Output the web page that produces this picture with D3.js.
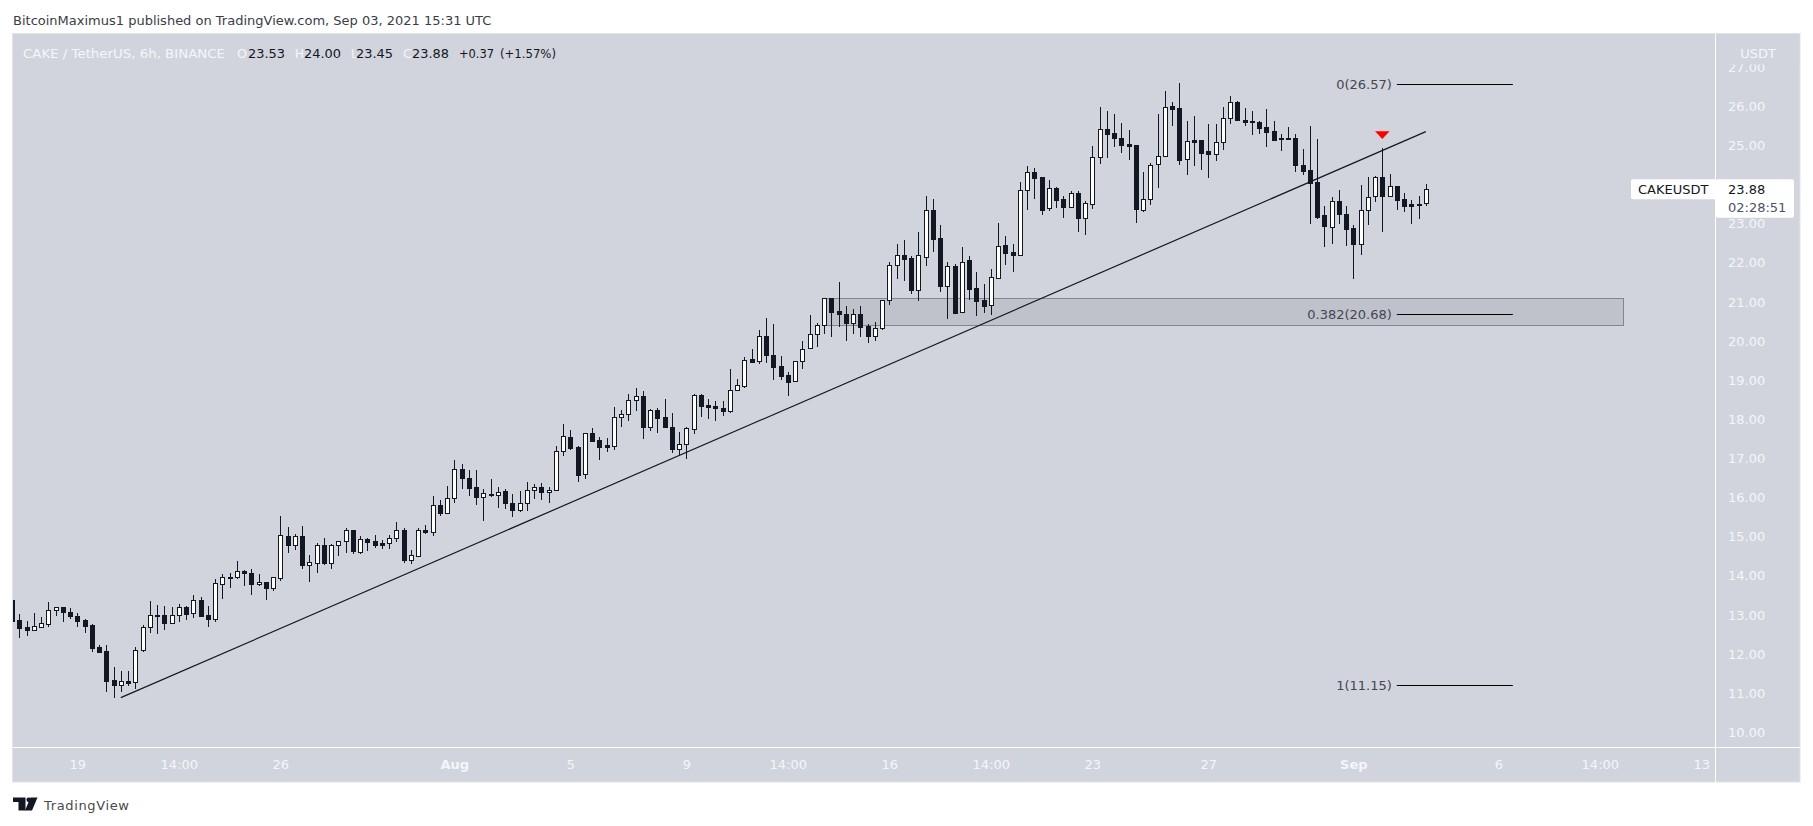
<!DOCTYPE html>
<html>
<head>
<meta charset="utf-8">
<script src="https://cdnjs.cloudflare.com/ajax/libs/d3/7.8.5/d3.min.js"></script>
<style>
  html, body { margin: 0; padding: 0; background: #ffffff; }
  svg { display: block; }
  text { font-family: "DejaVu Sans", sans-serif; font-size: 13px; }
</style>
</head>
<body>
<svg id="chart" width="1813" height="826"></svg>
<script>
// 6h candles, candle index 0 = Jul 17 00:00 UTC, first one is cut by the left edge
const firstIndex = -1;

const opens = [13.38,
  12.87,12.68,12.62,12.70,12.76,13.12,13.19,13.07,12.97,12.87,12.74,12.18,12.08,11.33,11.22,11.30,11.28,12.10,12.68,13.01,
  12.99,12.79,13.01,13.19,13.04,13.37,12.99,12.89,13.78,
  13.98,13.96,14.11,14.06,13.78,13.83,13.70,13.95,15.01,14.79,
  15.01,14.28,14.33,14.78,14.33,14.78,14.90,15.16,14.61,14.93,
  14.89,14.83,14.83,14.96,15.16,14.41,14.51,15.18,15.13,15.82,
  15.61,15.99,16.74,16.51,16.28,16.02,16.10,16.07,16.16,15.87,
  15.68,15.87,16.18,16.28,16.13,16.18,17.20,17.54,17.29,16.59,
  17.66,17.47,17.33,17.32,18.07,18.13,18.50,18.59,17.79,18.23,
  18.05,17.79,17.25,17.38,17.76,18.61,18.36,18.34,18.30,18.22,
  18.74,18.86,19.54,19.48,20.13,19.63,19.35,19.12,18.97,19.48,
  19.81,20.17,20.40,21.10,20.76,20.68,20.47,20.68,20.38,20.14,
  20.32,21.06,21.93,22.19,22.11,21.31,22.15,23.34,22.63,21.41,
  21.92,20.73,22.07,21.35,21.05,20.91,21.62,22.45,22.27,22.21,
  23.85,24.31,24.19,23.39,23.90,23.62,23.43,23.77,23.15,23.49,
  24.69,25.43,25.31,25.18,25.03,25.01,23.35,23.64,24.53,24.74,
  26.00,25.95,24.64,25.13,25.13,24.85,24.79,25.08,25.71,26.12,
  25.66,25.61,25.59,25.47,25.37,25.20,25.20,25.19,24.50,24.37,
  24.06,23.22,22.92,23.59,23.24,22.89,22.49,23.36,23.70,24.18,
  23.70,23.95,23.62,23.49,23.49,23.53];

const highs = [13.38,
  13.02,12.84,13.05,12.95,13.33,13.21,13.21,13.18,13.04,12.90,12.76,12.23,12.23,11.67,11.57,11.57,12.18,12.74,13.36,13.25,
  13.23,13.20,13.28,13.22,13.51,13.46,13.24,13.92,14.05,
  14.06,14.39,14.16,14.17,14.04,13.85,13.96,15.53,15.24,15.08,
  15.27,14.53,14.83,14.96,14.81,14.90,15.22,15.16,15.01,14.97,
  15.04,14.91,15.04,15.37,15.22,14.66,15.21,15.31,16.03,15.93,
  16.29,16.97,16.85,16.70,16.70,16.22,16.47,16.26,16.22,16.09,
  16.17,16.39,16.34,16.36,16.27,17.31,17.88,17.72,17.31,17.66,
  17.77,17.54,17.52,18.31,18.24,18.64,18.80,18.72,18.26,18.28,
  18.52,18.16,17.67,17.80,18.64,18.65,18.52,18.47,18.47,19.28,
  19.02,19.58,19.79,20.28,20.58,20.43,19.61,19.22,19.48,19.99,
  20.66,20.45,21.11,21.10,21.50,20.89,20.81,20.89,20.43,20.49,
  21.06,22.02,22.48,22.58,22.17,22.78,23.70,23.64,22.96,22.01,
  21.97,22.40,22.17,21.76,21.46,21.84,23.01,22.68,22.48,24.07,
  24.47,24.42,24.20,24.11,23.94,23.70,23.84,23.83,23.58,24.98,
  25.98,25.88,25.80,25.57,25.39,25.02,24.32,24.54,25.79,26.38,
  26.10,26.59,25.62,25.75,25.13,25.54,25.54,25.98,26.26,26.14,
  25.95,25.88,25.61,25.93,25.62,25.29,25.48,25.29,24.91,25.49,
  25.16,23.45,23.68,23.86,23.45,22.96,23.99,24.19,24.21,24.93,
  24.26,23.95,23.77,23.60,23.70,24.00];

const lows = [12.85,
  12.42,12.46,12.60,12.66,12.70,12.96,12.82,12.90,12.70,12.55,12.04,12.04,11.04,10.88,11.02,11.19,11.11,12.04,12.54,12.50,
  12.62,12.79,12.82,12.87,12.92,12.96,12.70,12.83,13.41,
  13.70,13.93,13.75,13.52,13.75,13.39,13.62,13.87,14.59,14.67,
  14.18,13.85,14.08,14.28,14.18,14.51,14.59,14.56,14.56,14.64,
  14.72,14.69,14.69,14.86,14.33,14.31,14.49,15.06,15.02,15.53,
  15.61,15.87,16.22,16.04,15.81,15.41,16.02,15.73,15.70,15.50,
  15.63,15.65,15.95,15.93,15.86,16.18,17.06,17.21,16.40,16.47,
  17.43,16.96,17.16,17.21,17.81,17.95,18.21,17.50,17.70,17.65,
  17.77,17.15,17.08,16.99,17.63,18.07,18.01,17.96,18.09,18.17,
  18.74,18.80,19.44,19.42,19.45,19.01,19.01,18.60,18.97,19.29,
  19.81,19.85,20.18,20.09,20.37,20.01,20.19,20.09,19.96,20.01,
  20.29,20.92,21.58,21.54,21.20,21.02,21.91,22.27,21.25,20.55,
  20.68,20.73,21.05,20.65,20.72,20.67,21.58,21.95,21.77,22.21,
  23.35,23.63,23.22,23.33,23.41,23.14,23.41,22.78,22.71,23.37,
  24.52,24.68,24.96,24.80,24.63,23.01,23.30,23.47,23.91,24.69,
  25.50,24.50,24.24,24.47,24.37,24.16,24.61,24.88,25.54,25.63,
  25.50,25.26,25.29,24.96,25.13,24.85,25.16,24.33,24.24,22.99,
  23.12,22.40,22.48,22.99,22.43,21.58,22.20,22.96,23.55,22.78,
  23.69,23.35,23.30,22.99,23.12,23.45];

const closes = [12.85,
  12.67,12.62,12.71,12.79,13.12,13.19,13.07,12.96,12.85,12.72,12.16,12.06,11.32,11.22,11.30,11.27,12.10,12.68,13.01,12.98,
  12.79,13.01,13.19,13.03,13.37,12.98,12.89,13.81,13.96,
  13.96,14.11,14.06,13.79,13.83,13.69,13.96,15.04,14.79,15.01,
  14.28,14.34,14.78,14.33,14.78,14.90,15.16,14.64,14.93,14.87,
  14.78,14.79,14.96,15.16,14.41,14.52,15.18,15.13,15.82,15.61,
  15.98,16.74,16.50,16.25,16.02,16.11,16.07,16.15,15.87,15.68,
  15.87,16.18,16.28,16.15,16.18,17.20,17.56,17.27,16.58,17.66,
  17.45,17.30,17.30,18.07,18.13,18.48,18.59,17.79,18.23,18.04,
  17.79,17.25,17.38,17.77,18.61,18.35,18.32,18.29,18.22,18.74,
  18.87,19.51,19.47,20.12,19.63,19.34,19.11,18.96,19.48,19.79,
  20.17,20.40,21.09,20.75,20.68,20.47,20.68,20.37,20.14,20.32,
  21.06,21.93,22.19,22.10,21.31,22.19,23.34,22.61,21.41,21.91,
  20.71,22.03,21.34,21.03,20.90,21.63,22.42,22.26,22.21,23.85,
  24.31,24.17,23.35,23.90,23.61,23.43,23.77,23.15,23.52,24.69,
  25.42,25.30,25.19,25.02,24.99,23.37,23.64,24.51,24.74,25.99,
  25.94,24.63,25.10,25.09,24.81,24.79,25.08,25.71,26.12,25.65,
  25.60,25.59,25.44,25.35,25.14,25.18,25.18,24.50,24.35,24.04,
  23.18,22.95,23.59,23.25,22.87,22.49,23.36,23.67,24.18,23.70,
  23.95,23.61,23.46,23.46,23.48,23.88];

// 24.00 sits under the last price label in the reference, so it is left out
const priceTicks = [10, 11, 12, 13, 14, 15, 16, 17, 18, 19, 20, 21, 22, 23, 25, 26, 27];
const timeTickIndex = [8, 22, 36, 60, 76, 92, 106, 120, 134, 148, 164, 184, 204, 218, 232];
const timeTickLabels = ["19", "14:00", "26", "Aug", "5", "9", "14:00", "16", "14:00", "23", "27", "Sep", "6", "14:00", "13"];
const boldTimeLabels = ["Aug", "Sep"];

// trend line and drawings, in candle index / price
const trendIndex = [14, 194];
const trendPrice = [10.885, 25.35];
const zoneIndex = [111, 221.2];
const zonePrice = [21.107, 20.425];
const fibIndex = [190, 206];
const fibPrice = [26.57, 20.68, 11.21];
const fibLabels = ["0(26.57)", "0.382(20.68)", "1(11.15)"];
const arrowIndex = [187, 189, 188];
const arrowPrice = [25.36, 25.36, 25.16];

const symbolName = "CAKEUSDT";
const lastPrice = 23.88;
const countdown = "02:28:51";
const legendParts = [
  ["CAKE / TetherUS, 6h, BINANCE", 23, "light", 202],
  ["O", 237, "light", 10],
  ["23.53", 248, "dark", 37],
  ["H", 295, "light", 9],
  ["24.00", 304, "dark", 37],
  ["L", 351, "light", 6],
  ["23.45", 356, "dark", 37],
  ["C", 403, "light", 9],
  ["23.88", 412, "dark", 37],
  ["+0.37", 459, "dark", 35],
  ["(+1.57%)", 500, "dark", 56],
];

const panelBg = "#d1d4dc";
const ink = "#131722";
const axisText = "#f4f6fb";

const panel = { left: 13, right: 1800, top: 33.5, bottom: 782, axisX: 1715, axisY: 747 };

const svgEl = d3.select("#chart");

const x = d3.scaleLinear().domain([0, 232]).range([19.33, 19.33 + 7.25 * 232]);
const y = d3.scaleLinear().domain([10, 27]).range([732.3, 67.1]);

const candles = opens.map((o, k) => ({
  index: firstIndex + k,
  open: o,
  high: highs[k],
  low: lows[k],
  close: closes[k],
}));

// header
svgEl.append("text")
  .attr("x", 13).attr("y", 25)
  .attr("fill", "#3a3d47")
  .text("BitcoinMaximus1 published on TradingView.com, Sep 03, 2021 15:31 UTC");

// panel
svgEl.append("rect")
  .attr("x", panel.left - 0.5).attr("y", panel.top)
  .attr("width", panel.right - panel.left + 0.5).attr("height", panel.bottom - panel.top)
  .attr("fill", panelBg).attr("stroke", "#e0e3eb");

svgEl.append("defs").append("clipPath").attr("id", "plot-clip")
  .append("rect")
  .attr("x", panel.left).attr("y", panel.top)
  .attr("width", panel.axisX - panel.left).attr("height", panel.axisY - panel.top);

const plot = svgEl.append("g").attr("clip-path", "url(#plot-clip)");

// support zone sits behind the candles
plot.append("rect")
  .attr("x", Math.round(x(zoneIndex[0])) + 0.5)
  .attr("y", Math.round(y(zonePrice[0])) + 0.5)
  .attr("width", Math.round(x(zoneIndex[1]) - x(zoneIndex[0])))
  .attr("height", Math.round(y(zonePrice[1]) - y(zonePrice[0])))
  .attr("fill", "#787b86").attr("fill-opacity", 0.2)
  .attr("stroke", "#848689");

const candleG = plot.selectAll(".candle")
  .data(candles)
  .enter()
  .append("g")
  .attr("class", "candle");

candleG.append("line")
  .attr("x1", (d) => Math.round(x(d.index)) + 0.5)
  .attr("x2", (d) => Math.round(x(d.index)) + 0.5)
  .attr("y1", (d) => Math.round(y(d.high)))
  .attr("y2", (d) => Math.round(y(d.low)))
  .attr("stroke", ink);

candleG.append("rect")
  .attr("x", (d) => Math.round(x(d.index)) - 1.5)
  .attr("width", 4)
  .attr("y", (d) => Math.round(y(Math.max(d.open, d.close))) + 0.5)
  .attr("height", (d) =>
    Math.max(1, Math.round(y(Math.min(d.open, d.close))) - Math.round(y(Math.max(d.open, d.close))))
  )
  .attr("fill", (d) => (d.close >= d.open ? "#ffffff" : ink))
  .attr("stroke", ink);

// trend line
plot.append("line")
  .attr("x1", x(trendIndex[0])).attr("y1", y(trendPrice[0]))
  .attr("x2", x(trendIndex[1])).attr("y2", y(trendPrice[1]))
  .attr("stroke", ink).attr("stroke-width", 1.2);

// fib levels
const fibG = plot.selectAll(".fib")
  .data(fibPrice)
  .enter()
  .append("g")
  .attr("class", "fib");

fibG.append("line")
  .attr("x1", x(fibIndex[0])).attr("x2", x(fibIndex[1]))
  .attr("y1", (d) => Math.round(y(d)) + 0.5).attr("y2", (d) => Math.round(y(d)) + 0.5)
  .attr("stroke", "#000000");

fibG.append("text")
  .attr("x", x(fibIndex[0]) - 5)
  .attr("y", (d) => y(d))
  .attr("dy", "0.36em")
  .attr("text-anchor", "end")
  .attr("fill", "#434651")
  .text((d, k) => fibLabels[k]);

// red marker above the rejection wick
plot.append("path")
  .attr("d", d3.line().x((d) => x(d[0])).y((d) => y(d[1]))(d3.zip(arrowIndex, arrowPrice)) + "Z")
  .attr("fill", "#ff0000");

// axes
const timeAxis = d3.axisBottom(x)
  .tickValues(timeTickIndex)
  .tickSize(0)
  .tickPadding(0)
  .tickFormat((d, k) => timeTickLabels[k]);

const timeG = svgEl.append("g")
  .attr("transform", `translate(0,${panel.axisY + 13})`)
  .call(timeAxis);
timeG.select(".domain").remove();
timeG.selectAll("text")
  .attr("fill", axisText)
  .attr("font-size", 13)
  .attr("font-family", '"DejaVu Sans", sans-serif')
  .attr("font-weight", (d, k) => (boldTimeLabels.includes(timeTickLabels[k]) ? "bold" : "normal"));

const priceAxis = d3.axisRight(y)
  .tickValues(priceTicks)
  .tickSize(0)
  .tickPadding(0)
  .tickFormat(d3.format(".2f"));

const priceG = svgEl.append("g")
  .attr("transform", `translate(1728,0)`)
  .call(priceAxis);
priceG.select(".domain").remove();
priceG.selectAll("text")
  .attr("fill", axisText)
  .attr("font-size", 13)
  .attr("font-family", '"DejaVu Sans", sans-serif');

// currency label covers the top of the 27.00 tick
svgEl.append("rect")
  .attr("x", panel.axisX + 1).attr("y", panel.top + 1)
  .attr("width", panel.right - panel.axisX - 1.5).attr("height", 30)
  .attr("fill", panelBg);
svgEl.append("text")
  .attr("x", 1758).attr("y", 58)
  .attr("text-anchor", "middle")
  .attr("fill", axisText)
  .text("USDT");

// dividers
svgEl.append("line")
  .attr("x1", panel.axisX + 0.5).attr("x2", panel.axisX + 0.5)
  .attr("y1", panel.top).attr("y2", panel.bottom)
  .attr("stroke", "#ffffff");
svgEl.append("line")
  .attr("x1", panel.left).attr("x2", panel.right)
  .attr("y1", panel.axisY + 0.5).attr("y2", panel.axisY + 0.5)
  .attr("stroke", "#ffffff");

// last price labels
const lastY = y(lastPrice);
svgEl.append("rect")
  .attr("x", 1631).attr("y", lastY - 10)
  .attr("width", 86).attr("height", 20)
  .attr("rx", 2)
  .attr("fill", "#ffffff");
svgEl.append("rect")
  .attr("x", panel.axisX + 1).attr("y", lastY - 10)
  .attr("width", 78).attr("height", 38.5)
  .attr("rx", 2)
  .attr("fill", "#ffffff");
svgEl.append("text")
  .attr("x", 1638).attr("y", lastY).attr("dy", "0.36em")
  .attr("fill", ink)
  .text(symbolName);
svgEl.append("text")
  .attr("x", 1728).attr("y", lastY).attr("dy", "0.36em")
  .attr("fill", ink)
  .text(d3.format(".2f")(lastPrice));
svgEl.append("text")
  .attr("x", 1728).attr("y", lastY + 18.5).attr("dy", "0.36em")
  .attr("fill", "#4c525e")
  .text(countdown);

// legend
svgEl.selectAll(".legend")
  .data(legendParts)
  .enter()
  .append("text")
  .attr("class", "legend")
  .attr("x", (d) => d[1])
  .attr("y", 58)
  .attr("textLength", (d) => d[3])
  .attr("lengthAdjust", "spacingAndGlyphs")
  .attr("fill", (d) => (d[2] === "light" ? axisText : ink))
  .text((d) => d[0]);

// footer logo
const logo = svgEl.append("g").attr("fill", "#131722");
logo.append("path").attr("d", "M13 797.5H25.5V810.5H18.5V802H13Z");
logo.append("circle").attr("cx", 28.8).attr("cy", 799.8).attr("r", 2.4);
logo.append("path").attr("d", "M30.5 797.5H37.5L32 810.5H25Z");
svgEl.append("text")
  .attr("x", 44).attr("y", 810)
  .attr("font-size", 16)
  .attr("textLength", 85)
  .attr("fill", "#4a4a4a")
  .text("TradingView");
</script>
</body>
</html>
